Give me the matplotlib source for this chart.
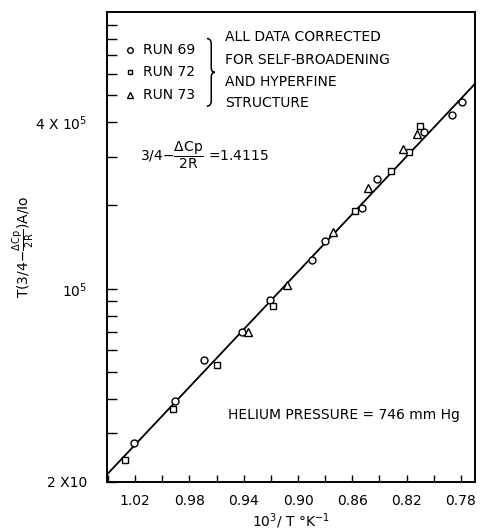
import matplotlib
matplotlib.use("Agg")
import matplotlib.pyplot as plt
from matplotlib.path import Path
from matplotlib.patches import PathPatch

# values (x = 10^3/T, y = T^(3/4-dCp/2R) A/Io)
run69_x = [1.0205, 0.9903, 0.9692, 0.9416, 0.9203, 0.8895, 0.8802, 0.8531, 0.8415, 0.8073, 0.7869, 0.7790]
run69_y = [2.76e4, 3.92e4, 5.54e4, 6.97e4, 9.09e4, 1.275e5, 1.484e5, 1.956e5, 2.50e5, 3.69e5, 4.26e5, 4.73e5]
run72_x = [1.0271, 0.9917, 0.9598, 0.9183, 0.8583, 0.8317, 0.8186, 0.8100]
run72_y = [2.40e4, 3.67e4, 5.32e4, 8.64e4, 1.91e5, 2.67e5, 3.12e5, 3.87e5]
run73_x = [0.9368, 0.9081, 0.8745, 0.8485, 0.8228, 0.8124]
run73_y = [7.00e4, 1.034e5, 1.608e5, 2.318e5, 3.19e5, 3.62e5]
fit_x = [1.041, 0.7695]
fit_y = [2.12e4, 5.52e5]

xticks = [1.02, 0.98, 0.94, 0.90, 0.86, 0.82, 0.78]
xticks_minor = [1.04, 1.00, 0.96, 0.92, 0.88, 0.84, 0.80]
yticks = [2e4, 1e5, 4e5]
ytick_labels = ["2 X10", r"10$^5$", r"4 X 10$^5$"]
yticks_minor = [3e4, 4e4, 5e4, 6e4, 7e4, 8e4, 9e4, 2e5, 3e5, 5e5, 6e5, 7e5, 8e5, 9e5]

plt.rcParams["font.family"] = "DejaVu Sans"
plt.rcParams["mathtext.default"] = "regular"
fig = plt.figure(figsize=(4.8, 5.32), dpi=100)
ax = fig.add_axes([0.222, 0.094, 0.768, 0.883])

ax.plot(fit_x, fit_y, color="black", lw=1.3)
mk = dict(ls="none", mfc="white", mec="black", mew=1.0)
ax.plot(run69_x, run69_y, marker="o", ms=5, **mk)
ax.plot(run72_x, run72_y, marker="s", ms=4.2, **mk)
ax.plot(run73_x, run73_y, marker="^", ms=5.5, **mk)

ax.set_yscale("log")
ax.set_xlim(1.041, 0.7695)
ax.set_ylim(2e4, 1e6)

ax.set_xticks(xticks)
ax.set_xticklabels(["%.2f" % v for v in xticks])
ax.set_xticks(xticks_minor, minor=True)
ax.set_yticks(yticks)
ax.set_yticklabels(ytick_labels)
ax.set_yticks(yticks_minor, minor=True)
ax.yaxis.set_minor_formatter(matplotlib.ticker.NullFormatter())

ax.tick_params(axis="x", which="both", direction="in", length=5, width=1, pad=9, labelsize=10)
ax.tick_params(axis="y", which="both", direction="in", length=7, width=1, pad=14, labelsize=10)
for s in ax.spines.values():
    s.set_linewidth(1.4)

ax.set_xlabel(r"10$^3$/ T °K$^{-1}$", fontsize=10, labelpad=2)
ax.set_ylabel(r"T(3/4$-\frac{\Delta Cp}{2R}$)A/Io", fontsize=10)
ax.yaxis.set_label_coords(-0.19, 0.5)

# legend block
ax.plot([0.063], [0.919], marker="o", ms=4, transform=ax.transAxes, **mk)
ax.plot([0.063], [0.872], marker="s", ms=3.5, transform=ax.transAxes, **mk)
ax.plot([0.063], [0.823], marker="^", ms=4.5, transform=ax.transAxes, **mk)
for yy, t in zip([0.919, 0.872, 0.823], ["RUN 69", "RUN 72", "RUN 73"]):
    ax.text(0.099, yy, t, transform=ax.transAxes, fontsize=10, va="center")

# brace
bx, top, mid, bot = 0.284, 0.944, 0.872, 0.800
verts = [(bx - 0.012, top), (bx, top), (bx, top - 0.012),
         (bx, mid + 0.01), (bx, mid), (bx + 0.01, mid),
         (bx, mid), (bx, mid - 0.01),
         (bx, bot + 0.012), (bx, bot), (bx - 0.012, bot)]
codes = [Path.MOVETO, Path.CURVE3, Path.CURVE3,
         Path.LINETO, Path.CURVE3, Path.CURVE3,
         Path.CURVE3, Path.CURVE3,
         Path.LINETO, Path.CURVE3, Path.CURVE3]
ax.add_patch(PathPatch(Path(verts, codes), fc="none", ec="black", lw=1.1,
                       transform=ax.transAxes))

for yy, t in zip([0.947, 0.898, 0.851, 0.806],
                 ["ALL DATA CORRECTED", "FOR SELF-BROADENING", "AND HYPERFINE", "STRUCTURE"]):
    ax.text(0.321, yy, t, transform=ax.transAxes, fontsize=10, va="center")

ax.text(0.09, 0.696, r"3/4$-\dfrac{\Delta Cp}{2R}$ =1.4115", transform=ax.transAxes,
        fontsize=10, va="center")
ax.text(0.329, 0.143, "HELIUM PRESSURE = 746 mm Hg", transform=ax.transAxes,
        fontsize=10, va="center")

fig.savefig("out.png", dpi=100)
